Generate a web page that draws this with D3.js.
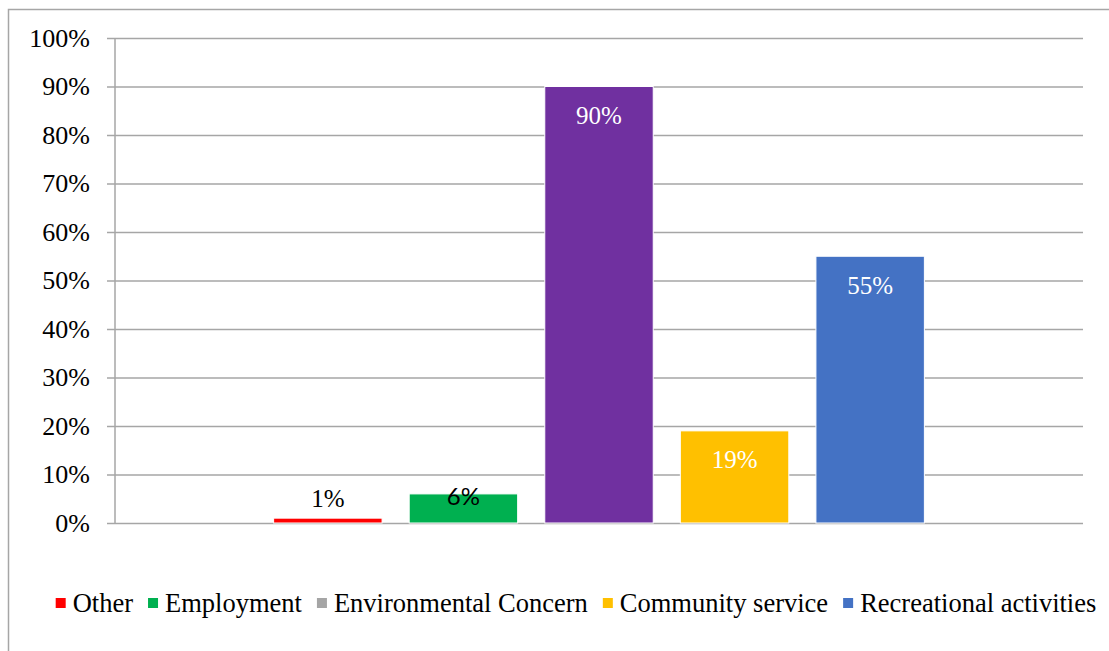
<!DOCTYPE html>
<html>
<head>
<meta charset="utf-8">
<script src="https://cdn.jsdelivr.net/npm/d3@7"></script>
<style>
  body { margin: 0; background: #fff; }
  text { font-family: "Liberation Serif", "Times New Roman", serif; }
</style>
</head>
<body>
<svg id="chart" width="1109" height="651"></svg>
<script>
var svg = d3.select("#chart");

var width = +svg.attr("width");
var height = +svg.attr("height");

// chart data
var seriesNames = ["Other", "Employment", "Environmental Concern", "Community service", "Recreational activities"];
var seriesValues = [0.01, 0.06, 0.90, 0.19, 0.55];
var barColors = ["#FF0000", "#00B050", "#7030A0", "#FFC000", "#4472C4"];
var legendColors = ["#FF0000", "#00B050", "#A5A5A5", "#FFC000", "#4472C4"];
var yTicks = [0, 0.1, 0.2, 0.3, 0.4, 0.5, 0.6, 0.7, 0.8, 0.9, 1.0];
// where each data label sits relative to its bar
var labelPlacement = ["outside", "edge", "inside", "inside", "inside"];

// plot area
var plotLeft = 115, plotRight = 1083, plotTop = 38, plotBottom = 523;

// outer chart border (partially cropped in the reference)
svg.append("rect")
  .attr("x", 8.5).attr("y", 9.5)
  .attr("width", width + 20).attr("height", height + 20)
  .attr("fill", "none")
  .attr("stroke", "#a6a6a6")
  .attr("stroke-width", 1.5);

var xScale = d3.scaleBand()
  .domain(seriesNames)
  .range([plotLeft, plotRight])
  .paddingInner(0.2)
  .paddingOuter(1.17);

var yScale = d3.scaleLinear()
  .domain([0, 1])
  .range([plotBottom, plotTop]);

// gridlines + y axis
var leftAxis = d3.axisLeft(yScale)
  .tickValues(yTicks)
  .tickFormat(d3.format(".0%"))
  .tickSize(-(plotRight - plotLeft))
  .tickSizeOuter(0)
  .tickPadding(25);

var yAxisG = svg.append("g")
  .attr("transform", "translate(" + plotLeft + ",0)")
  .call(leftAxis);

yAxisG.select(".domain").remove();
yAxisG.selectAll(".tick line")
  .attr("x1", -8)
  .attr("stroke", "#a6a6a6")
  .attr("stroke-width", 1.5);
yAxisG.selectAll(".tick text")
  .attr("font-size", 26)
  .attr("fill", "#000")
  .style("font-family", "'Liberation Serif', serif");

// vertical axis line
svg.append("line")
  .attr("x1", plotLeft).attr("x2", plotLeft)
  .attr("y1", plotTop).attr("y2", plotBottom)
  .attr("stroke", "#a6a6a6")
  .attr("stroke-width", 1.5);

// bars
svg.selectAll(".bar")
  .data(seriesValues)
  .enter()
  .append("rect")
  .attr("class", "bar")
  .attr("x", function (d, i) { return xScale(seriesNames[i]); })
  .attr("y", function (d) { return yScale(d); })
  .attr("width", xScale.bandwidth())
  .attr("height", function (d) { return yScale(0) - yScale(d); })
  .attr("fill", function (d, i) { return barColors[i]; })
  .attr("stroke", "#ffffff")
  .attr("stroke-width", 1);

// data labels
svg.selectAll(".lbl")
  .data(seriesValues)
  .enter()
  .append("text")
  .attr("class", "lbl")
  .attr("x", function (d, i) { return xScale(seriesNames[i]) + xScale.bandwidth() / 2; })
  .attr("y", function (d, i) {
    if (labelPlacement[i] == "outside") return yScale(d) - 20;
    if (labelPlacement[i] == "edge") return yScale(d) + 2;
    return yScale(d) + 29;
  })
  .attr("text-anchor", "middle")
  .attr("dominant-baseline", "central")
  .attr("font-size", function (d, i) { return labelPlacement[i] == "edge" ? 24 : 25; })
  .style("font-family", function (d, i) {
    return labelPlacement[i] == "edge" ? "Lato, 'Liberation Sans', sans-serif" : "'Liberation Serif', serif";
  })
  .attr("fill", function (d, i) { return labelPlacement[i] == "inside" ? "#ffffff" : "#000000"; })
  .text(function (d) { return d3.format(".0%")(d); });

// legend
var legend = svg.append("g").attr("transform", "translate(0,603)");
var items = legend.selectAll(".item")
  .data(seriesNames)
  .enter()
  .append("g")
  .attr("class", "item");

items.append("rect")
  .attr("y", -5).attr("width", 10).attr("height", 10)
  .attr("fill", function (d, i) { return legendColors[i]; });

items.append("text")
  .attr("x", 17)
  .attr("dominant-baseline", "central")
  .attr("font-size", 26.5)
  .attr("fill", "#000")
  .text(function (d) { return d; });

// lay legend items out side by side, centred
var itemWidths = [];
items.each(function () {
  itemWidths.push(17 + this.querySelector("text").getComputedTextLength());
});
var gap = 15;
var total = d3.sum(itemWidths) + gap * (itemWidths.length - 1);
var xPos = 576 - total / 2;
items.attr("transform", function (d, i) {
  var t = "translate(" + xPos + ",0)";
  xPos += itemWidths[i] + gap;
  return t;
});
</script>
</body>
</html>
